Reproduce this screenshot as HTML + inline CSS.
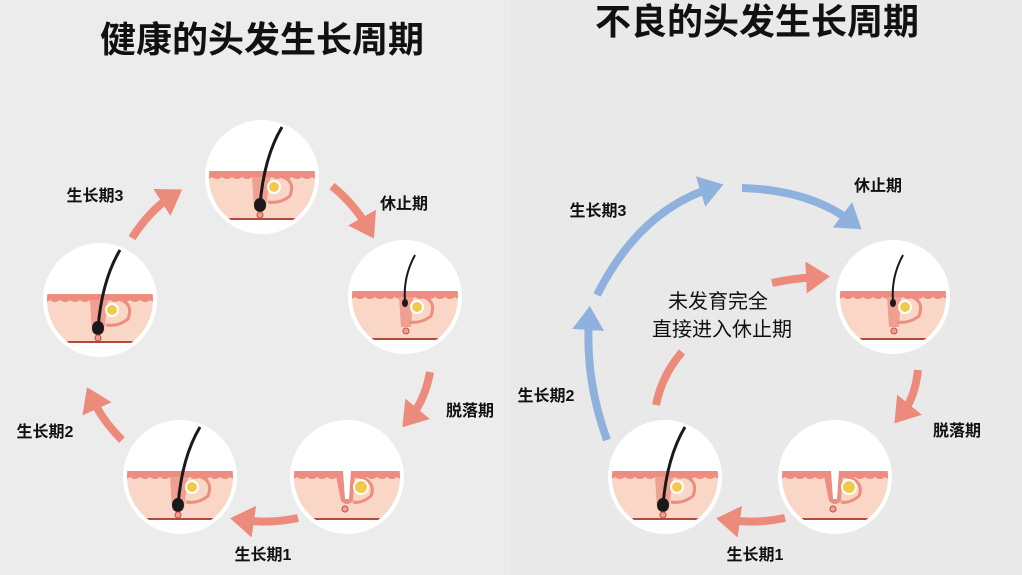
<!DOCTYPE html>
<html><head><meta charset="utf-8"><style>
html,body{margin:0;padding:0;background:#ececec;}
svg{display:block;}
text{font-family:"Liberation Sans","Noto Sans CJK SC",sans-serif;fill:#111;}
</style></head><body>
<svg width="1022" height="575" viewBox="0 0 1022 575" xmlns="http://www.w3.org/2000/svg">
<defs>
<clipPath id="cc"><circle cx="0" cy="0" r="53"/></clipPath>
<marker id="ap" markerWidth="4" markerHeight="4" refX="1.5" refY="2" orient="auto" markerUnits="strokeWidth"><path d="M0,0 L3,2 L0,4 Z" fill="#ec8a7c"/></marker>
<marker id="ab" markerWidth="4" markerHeight="4" refX="1.5" refY="2" orient="auto" markerUnits="strokeWidth"><path d="M0,0 L3,2 L0,4 Z" fill="#8fb1de"/></marker>
<g id="base">
<circle r="57" fill="#fff"/>
<g clip-path="url(#cc)">
<rect x="-60" y="-4" width="120" height="70" fill="#fad6c6"/>
<rect x="-60" y="-6" width="120" height="6" fill="#ec8d80"/>
<path d="M-60,0 q5,4 10,0 q5,4 10,0 q5,4 10,0 q5,4 10,0 q5,4 10,0 q5,4 10,0 q5,4 10,0 q5,4 10,0 q5,4 10,0 q5,4 10,0 q5,4 10,0 q5,4 10,0" fill="#ec8d80"/>
<rect x="-60" y="42" width="120" height="30" fill="#fff"/>
<line x1="-36" y1="42" x2="36" y2="42" stroke="#b04a3c" stroke-width="2"/>
</g>
</g>
<g id="anagen">
<use href="#base"/>
<path d="M-10,0 L-8,32 Q-2,38 4,32 L8,0" fill="#f0a090"/>
<path d="M18,-1 q16,4 10,20 q-10,8 -22,6" fill="none" stroke="#ec8d80" stroke-width="3"/>
<circle cx="12" cy="10" r="6" fill="#f3c94b" stroke="#fff" stroke-width="2"/>
<path d="M20,-50 Q2,-20 -2,28" stroke="#1a1a1a" stroke-width="3" fill="none"/>
<ellipse cx="-2" cy="28" rx="6" ry="7" fill="#1a1a1a"/>
<circle cx="-2" cy="38" r="3" fill="#f2a090" stroke="#c0504a"/>
</g>
<g id="catagen">
<use href="#base"/>
<path d="M-6,0 L-4,30 L6,30 L8,0" fill="#f0a090"/>
<path d="M16,-1 q16,4 10,20 q-10,8 -22,6" fill="none" stroke="#ec8d80" stroke-width="3"/>
<circle cx="12" cy="10" r="6" fill="#f3c94b" stroke="#fff" stroke-width="2"/>
<path d="M10,-42 Q-2,-20 0,4" stroke="#1a1a1a" stroke-width="2" fill="none"/>
<ellipse cx="0" cy="6" rx="3" ry="4" fill="#1a1a1a"/>
<circle cx="1" cy="34" r="3" fill="#f2a090" stroke="#c0504a"/>
</g>
<g id="telogen">
<use href="#base"/>
<path d="M-12,-6 L-6,24 Q0,30 6,24 L8,-6" fill="#ec8d80"/>
<path d="M-4,-6 L-2,22 L2,22 L4,-6" fill="#fff"/>
<path d="M8,-1 q22,4 16,20 q-10,8 -18,6" fill="none" stroke="#ec8d80" stroke-width="3"/>
<circle cx="14" cy="10" r="7" fill="#f3c94b" stroke="#fff" stroke-width="2"/>
<circle cx="-2" cy="32" r="3" fill="#f2a090" stroke="#c0504a"/>
</g>
</defs>
<rect x="511" y="0" width="511" height="575" fill="#e9e9e9"/>
<text x="262" y="52" font-size="36" font-weight="bold" text-anchor="middle">健康的头发生长周期</text>
<text x="757" y="34" font-size="36" font-weight="bold" text-anchor="middle">不良的头发生长周期</text>

<use href="#anagen" x="262" y="177"/>
<use href="#catagen" x="405" y="297"/>
<use href="#telogen" x="347" y="477"/>
<use href="#anagen" x="180" y="477"/>
<use href="#anagen" x="100" y="300"/>
<use href="#catagen" x="893" y="297"/>
<use href="#telogen" x="835" y="477"/>
<use href="#anagen" x="665" y="477"/>

<g fill="none" stroke="#ec8a7c" stroke-width="8">
<path d="M132,238 Q150,210 172,196" marker-end="url(#ap)"/>
<path d="M332,186 Q355,205 368,228" marker-end="url(#ap)"/>
<path d="M430,372 Q425,400 410,418" marker-end="url(#ap)"/>
<path d="M298,518 Q270,524 242,520" marker-end="url(#ap)"/>
<path d="M122,440 Q102,420 92,398" marker-end="url(#ap)"/>
<path d="M918,370 Q915,398 902,414" marker-end="url(#ap)"/>
<path d="M785,518 Q757,524 728,520" marker-end="url(#ap)"/>
<path d="M656,405 Q662,375 682,352"/>
<path d="M772,283 Q795,278 818,277" marker-end="url(#ap)"/>
</g>
<g fill="none" stroke="#8fb1de" stroke-width="8">
<path d="M607,440 Q585,380 589,318" marker-end="url(#ab)"/>
<path d="M597,295 Q640,210 712,188" marker-end="url(#ab)"/>
<path d="M742,188 Q810,190 852,222" marker-end="url(#ab)"/>
</g>

<g font-size="16" font-weight="600">
<text x="95" y="201" text-anchor="middle">生长期3</text>
<text x="404" y="209" text-anchor="middle">休止期</text>
<text x="470" y="416" text-anchor="middle">脱落期</text>
<text x="263" y="560" text-anchor="middle">生长期1</text>
<text x="45" y="437" text-anchor="middle">生长期2</text>
<text x="598" y="216" text-anchor="middle">生长期3</text>
<text x="546" y="401" text-anchor="middle">生长期2</text>
<text x="878" y="191" text-anchor="middle">休止期</text>
<text x="957" y="436" text-anchor="middle">脱落期</text>
<text x="755" y="560" text-anchor="middle">生长期1</text>
</g>
<g font-size="20">
<text x="718" y="308" text-anchor="middle">未发育完全</text>
<text x="722" y="336" text-anchor="middle">直接进入休止期</text>
</g>
</svg>
</body></html>
